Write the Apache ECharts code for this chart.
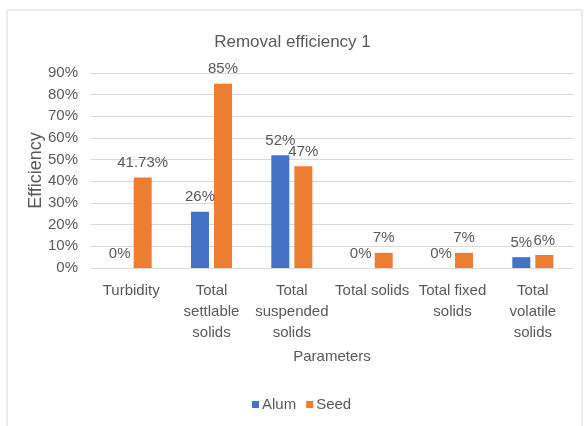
<!DOCTYPE html>
<html>
<head>
<meta charset="utf-8">
<title>Removal efficiency 1</title>
<script src="https://cdn.jsdelivr.net/npm/echarts@6/dist/echarts.min.js"></script>
<style>
  html, body { margin: 0; padding: 0; background: #fff; }
  #chart { width: 585px; height: 426px; }
</style>
</head>
<body>
<div id="chart"></div>
<script>
// categories (x axis)
var categories = [
  'Turbidity',
  'Total\nsettlable\nsolids',
  'Total\nsuspended\nsolids',
  'Total solids',
  'Total fixed\nsolids',
  'Total\nvolatile\nsolids'
];
// removal efficiency, %
var alum = [0, 26, 52, 0, 0, 5];
var seed = [41.73, 85, 47, 7, 7, 6];
var yTicks = [0, 10, 20, 30, 40, 50, 60, 70, 80, 90];

var textColor = '#595959';
var font = 'Liberation Sans';

var chart = echarts.init(document.getElementById('chart'));

function barLabel() {
  return {
    show: true,
    position: 'top',
    distance: 7,
    color: textColor,
    fontFamily: font,
    fontSize: 15,
    formatter: function (p) { return p.value + '%'; }
  };
}

chart.setOption({
  animation: false,
  textStyle: { fontFamily: font },
  // outer chart frame
  graphic: [{
    type: 'rect',
    shape: { x: 7, y: 10, width: 575, height: 440 },
    style: { fill: 'none', stroke: '#d9d9d9', lineWidth: 1 }
  }],
  title: {
    text: 'Removal efficiency 1',
    left: 'center',
    top: 29,
    textStyle: { color: textColor, fontSize: 17, fontWeight: 'normal', fontFamily: font }
  },
  legend: {
    bottom: 9,
    left: 247,
    icon: 'rect',
    itemWidth: 7,
    itemHeight: 7,
    itemGap: 10,
    textStyle: { color: textColor, fontSize: 15, fontFamily: font, padding: [0, 0, 0, -2] },
    data: ['Alum', 'Seed']
  },
  grid: { left: 91, right: 12, top: 73, bottom: 158 },
  xAxis: {
    type: 'category',
    data: categories,
    name: 'Parameters',
    nameLocation: 'middle',
    nameGap: 81,
    nameTextStyle: { color: textColor, fontSize: 15, fontFamily: font },
    axisLine: { lineStyle: { color: '#d9d9d9' } },
    axisTick: { show: false },
    axisLabel: {
      interval: 0,
      color: textColor,
      fontSize: 15,
      lineHeight: 21,
      margin: 12,
      fontFamily: font
    }
  },
  yAxis: {
    type: 'value',
    min: yTicks[0],
    max: yTicks[yTicks.length - 1],
    interval: 10,
    name: 'Efficiency',
    nameLocation: 'middle',
    nameGap: 46,
    nameMoveOverlap: false,
    nameTextStyle: { color: textColor, fontSize: 18, fontFamily: font },
    axisLine: { show: false },
    axisTick: { show: false },
    axisLabel: {
      color: textColor,
      fontSize: 15,
      margin: 13,
      fontFamily: font,
      formatter: '{value}%'
    },
    splitLine: { lineStyle: { color: '#d9d9d9' } }
  },
  series: [
    {
      name: 'Alum',
      type: 'bar',
      data: alum,
      barWidth: 18,
      barGap: '28%',
      itemStyle: { color: '#4472C4' },
      label: barLabel()
    },
    {
      name: 'Seed',
      type: 'bar',
      data: seed,
      barWidth: 18,
      barGap: '28%',
      itemStyle: { color: '#ED7D31' },
      label: barLabel()
    }
  ]
});
</script>
</body>
</html>
